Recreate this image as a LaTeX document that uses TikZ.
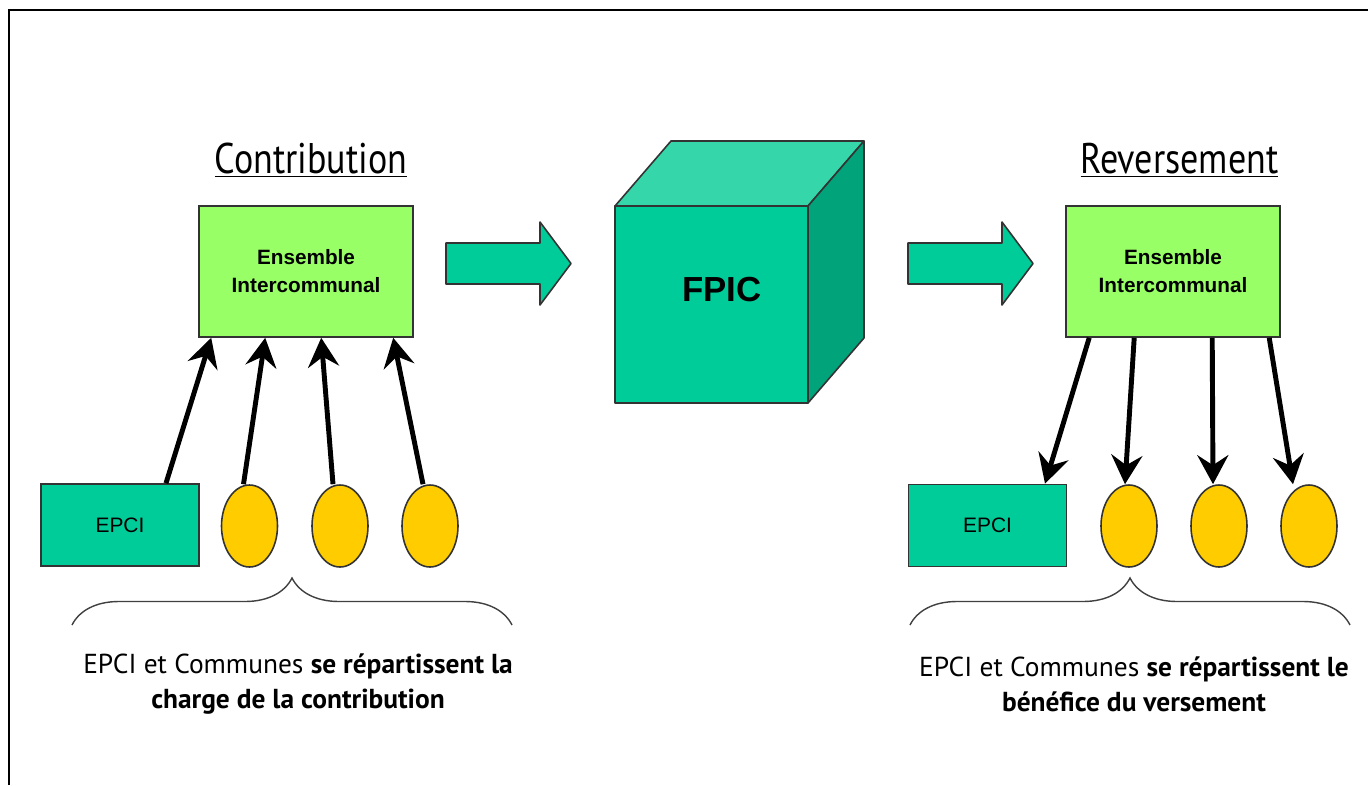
\documentclass[tikz,border=0pt]{standalone}
\usepackage{fontspec}
\setmainfont{PT Sans}
\newfontfamily\boxfont{Liberation Sans}
\newfontfamily\headfont[FakeStretch=0.84]{PT Sans}
\usetikzlibrary{shapes.geometric,arrows.meta,calc,decorations.pathreplacing}
\definecolor{leaf}{HTML}{99FF66}
\definecolor{sea}{HTML}{00CC99}
\definecolor{seatop}{HTML}{35D7AA}
\definecolor{seaside}{HTML}{00A37A}
\definecolor{gold}{HTML}{FFCC00}
\begin{document}
\begin{tikzpicture}[
        ens/.style={rectangle,draw=black!80,fill=leaf,line width=0.9pt,
          minimum width=4.28cm,minimum height=2.62cm,align=center,
          font=\boxfont\bfseries\fontsize{11.8}{15.9}\selectfont},
        epci/.style={rectangle,draw=black!80,fill=sea,line width=0.9pt,
          minimum width=3.16cm,minimum height=1.64cm,
          font=\boxfont\fontsize{11.9}{14}\selectfont},
        comm/.style={ellipse,draw=black!80,fill=gold,line width=0.9pt,
          inner sep=0pt,minimum width=1.12cm,minimum height=1.64cm},
        flow/.style={line width=2.8pt,
          -{Stealth[length=0.58cm,width=0.62cm,inset=0.2cm]}},
        fat/.style={draw=black!80,fill=sea,line width=0.9pt,line join=round},
        grp/.style={decorate,decoration={brace,amplitude=0.94cm},
          draw=black!75,line width=0.8pt},
        head/.style={anchor=base,font=\headfont\fontsize{24.4}{29}\selectfont},
        note/.style={align=center,font=\fontsize{15.6}{19.8}\selectfont}]
      \useasboundingbox (0,0) rectangle (27.36,-15.70);
      \draw[line width=1.1pt] (0.18,-15.70) -- (0.18,-0.20) -- (27.36,-0.20);
      % titles
      \node (contrib) at (6.22,-3.46) [head] {\underline{Contribution}};
      \node (revers) at (23.59,-3.46) [head] {\underline{Reversement}};
      % boxes
      \node (ensL) at (6.12,-5.43) [ens] {Ensemble\\Intercommunal};
      \node (ensR) at (23.46,-5.43) [ens] {Ensemble\\Intercommunal};
      \node (epciL) at (2.40,-10.50) [epci] {EPCI};
      \node (comL1) at (4.99,-10.52) [comm] {};
      \node (comL2) at (6.80,-10.52) [comm] {};
      \node (comL3) at (8.60,-10.52) [comm] {};
      \node (epciR) at (19.75,-10.51) [epci] {EPCI};
      \node (comR1) at (22.58,-10.52) [comm] {};
      \node (comR2) at (24.38,-10.52) [comm] {};
      \node (comR3) at (26.18,-10.52) [comm] {};
      % big arrows
      \draw[fat] (8.92,-4.86) -- (10.80,-4.86) -- (10.80,-4.44) -- (11.42,-5.27)
        -- (10.80,-6.10) -- (10.80,-5.68) -- (8.92,-5.68) -- cycle;
      \draw[fat] (18.16,-4.86) -- (20.04,-4.86) -- (20.04,-4.44) -- (20.66,-5.27)
        -- (20.04,-6.10) -- (20.04,-5.68) -- (18.16,-5.68) -- cycle;
      % cube
      \draw[fat,fill=seatop] (12.30,-4.12) -- (13.42,-2.82) -- (17.28,-2.82) -- (16.16,-4.12) -- cycle;
      \draw[fat,fill=seaside] (16.16,-4.12) -- (17.28,-2.82) -- (17.28,-6.76) -- (16.16,-8.06) -- cycle;
      \draw[fat] (12.30,-4.12) rectangle (16.16,-8.06);
      \node (fpic) at (14.44,-5.80) [font=\boxfont\bfseries\fontsize{19.8}{24}\selectfont] {FPIC};
      % contribution
      \draw ($(epciL.north)+(0.92,0)$) edge[flow] ($(ensL.south west)+(0.26,0)$);
      \draw ($(comL1.north)+(-0.12,0)$) edge[flow] ($(ensL.south west)+(1.34,0)$);
      \draw ($(comL2.north)+(-0.14,0)$) edge[flow] ($(ensL.south west)+(2.46,0)$);
      \draw ($(comL3.north)+(-0.14,0)$) edge[flow] ($(ensL.south west)+(3.90,0)$);
      % reversement
      \draw ($(ensR.south west)+(0.48,0)$) edge[flow] ($(epciR.north)+(1.15,0)$);
      \draw ($(ensR.south west)+(1.38,0)$) edge[flow] ($(comR1.north)+(-0.08,0)$);
      \draw ($(ensR.south west)+(2.94,0)$) edge[flow] ($(comR2.north)+(-0.12,0)$);
      \draw ($(ensR.south west)+(4.08,0)$) edge[flow] ($(comR3.north)+(-0.32,0)$);
      % braces
      \draw[grp] (1.44,-12.50) -- (10.24,-12.50);
      \draw[grp] (18.20,-12.50) -- (27.00,-12.50);
      \node (noteL) at (5.96,-13.68) [note]
        {EPCI et Communes \textbf{se répartissent la}\\\textbf{charge de la contribution}};
      \node (noteR) at (22.68,-13.68) [note]
        {EPCI et Communes \textbf{se répartissent le}\\\textbf{bénéfice du versement}};
\end{tikzpicture}
\end{document}
